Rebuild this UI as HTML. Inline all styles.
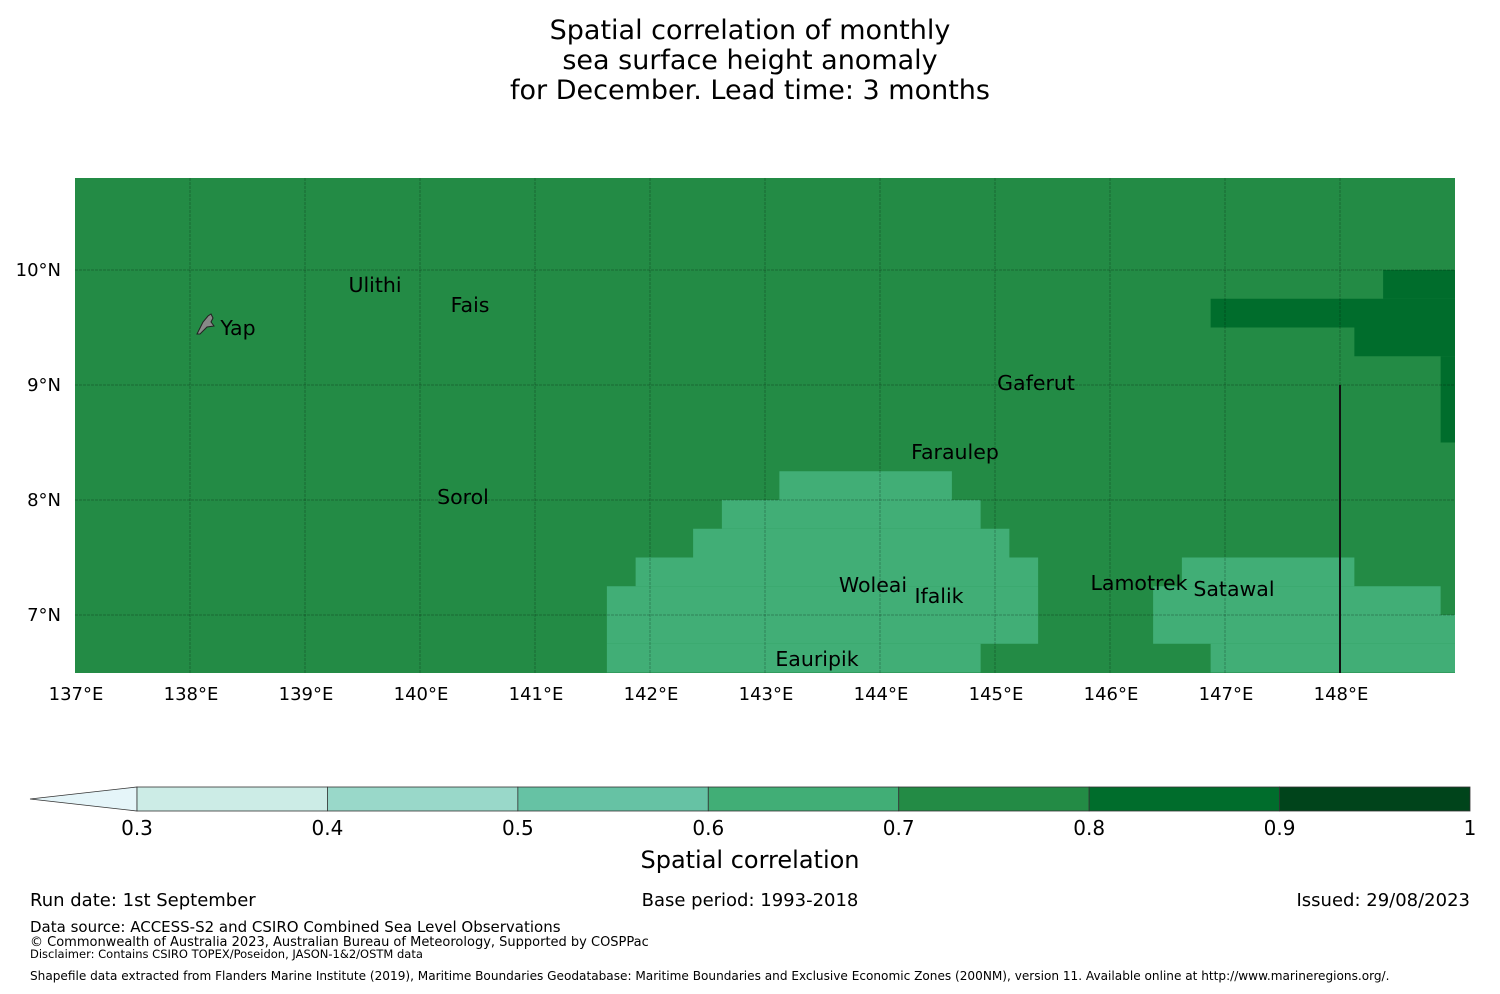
<!DOCTYPE html>
<html><head><meta charset="utf-8">
<style>
html,body{margin:0;padding:0;background:#fff;}
body{width:1500px;height:990px;overflow:hidden;font-family:"DejaVu Sans","Liberation Sans",sans-serif;}
</style></head>
<body>
<svg id="chart" width="1500" height="990" xmlns="http://www.w3.org/2000/svg" font-family="DejaVu Sans, Liberation Sans, sans-serif">
  <g font-size="27" text-anchor="middle" fill="#000">
    <text x="750" y="39">Spatial correlation of monthly</text>
    <text x="750" y="69">sea surface height anomaly</text>
    <text x="750" y="99">for December. Lead time: 3 months</text>
  </g>
  <g id="map"></g>
  <g id="cbar"></g>
  <g font-size="18" fill="#000">
    <text x="30" y="906">Run date: 1st September</text>
    <text x="750" y="906" text-anchor="middle">Base period: 1993-2018</text>
    <text x="1470" y="906" text-anchor="end">Issued: 29/08/2023</text>
    <text x="30" y="932" font-size="15">Data source: ACCESS-S2 and CSIRO Combined Sea Level Observations</text>
    <text x="30" y="946" font-size="13">© Commonwealth of Australia 2023, Australian Bureau of Meteorology, Supported by COSPPac</text>
    <text x="30" y="958" font-size="11.5">Disclaimer: Contains CSIRO TOPEX/Poseidon, JASON-1&amp;2/OSTM data</text>
    <text x="30" y="980" font-size="12.1">Shapefile data extracted from Flanders Marine Institute (2019), Maritime Boundaries Geodatabase: Maritime Boundaries and Exclusive Economic Zones (200NM), version 11. Available online at http://www.marineregions.org/.</text>
  </g>
</svg>
<script>
// ---- data ----
const lonTicks = [137,138,139,140,141,142,143,144,145,146,147,148];
const latTicks = [7,8,9,10];
const backgroundValue = 0.75;
// regions: [lonMin, lonMax, latMin, latMax, value]
const regionLon0 = [143.125,142.625,142.375,141.875,146.625,141.625,146.375,141.625,146.375,141.625,146.875, 148.375,146.875,148.125,148.875];
const regionLon1 = [144.625,144.875,145.125,145.375,148.125,145.375,148.875,145.375,149.0,144.875,149.0, 149.0,149.0,149.0,149.0];
const regionLat0 = [8.0,7.75,7.5,7.25,7.25,7.0,7.0,6.75,6.75,6.5,6.5, 9.75,9.5,9.25,8.5];
const regionLat1 = [8.25,8.0,7.75,7.5,7.5,7.25,7.25,7.0,7.0,6.75,6.75, 10.0,9.75,9.5,9.25];
const regionVal = [0.65,0.65,0.65,0.65,0.65,0.65,0.65,0.65,0.65,0.65,0.65, 0.85,0.85,0.85,0.85];
const placeNames = ["Yap","Ulithi","Fais","Gaferut","Faraulep","Sorol","Woleai","Ifalik","Eauripik","Lamotrek","Satawal"];
const placeLon = [138.417,139.609,140.435,145.357,144.652,140.374,143.939,144.513,143.452,146.252,147.078];
const placeLat = [9.496,9.87,9.696,9.017,8.417,8.026,7.261,7.165,6.617,7.278,7.226];
const cbarBounds = [0.3,0.4,0.5,0.6,0.7,0.8,0.9,1.0];
const cbarLabels = ["0.3","0.4","0.5","0.6","0.7","0.8","0.9","1"];
const cbarColors = ["#ccece6","#99d8c9","#66c2a4","#41ae76","#238b45","#006d2c","#00441b"];

// ---- axes ----
const X0=75,X1=1455,Y0=178,Y1=673;
const lonMin=137,lonMax=149,latMax=10.8,latMin=6.5;
const px=115;
const xs=lon=>X0+(lon-lonMin)*px;
const ys=lat=>Y0+(latMax-lat)*px;
const NS='http://www.w3.org/2000/svg';
function mk(tag,attrs,parent){const e=document.createElementNS(NS,tag);for(const k in attrs)e.setAttribute(k,attrs[k]);parent.appendChild(e);return e;}
function colorFor(v){for(let i=0;i<cbarColors.length;i++){if(v<cbarBounds[i+1])return cbarColors[i];}return cbarColors[cbarColors.length-1];}

const map=document.getElementById('map');
const bg=mk('rect',{x:X0,y:Y0,width:X1-X0,height:Y1-Y0,fill:colorFor(backgroundValue)},map);


for(let i=0;i<regionVal.length;i++){
  const a=Math.max(regionLon0[i],lonMin),b=Math.min(regionLon1[i],lonMax);
  const r=mk('rect',{x:xs(a),y:ys(regionLat1[i]),width:xs(b)-xs(a),height:ys(regionLat0[i])-ys(regionLat1[i]),fill:colorFor(regionVal[i])},map);
  
  
}
// gridlines
lonTicks.forEach((lon,i)=>{
  if(lon===lonMin)return;
  const l=mk('line',{x1:xs(lon),x2:xs(lon),y1:Y0,y2:Y1,stroke:'#000','stroke-opacity':0.25,'stroke-width':1,'stroke-dasharray':'3,1'},map);
  
  
});
latTicks.forEach(lat=>{
  const l=mk('line',{x1:X0,x2:X1,y1:ys(lat),y2:ys(lat),stroke:'#000','stroke-opacity':0.25,'stroke-width':1,'stroke-dasharray':'3,1'},map);
  
  
});
// EEZ boundary line
const eez=mk('line',{x1:xs(148),x2:xs(148),y1:ys(9),y2:Y1,stroke:'#111','stroke-width':2},map);


// Yap island shape
const yap=mk('path',{d:'M197,334 L203,322 L208,316 L211,314 L213,318 L211,322 L214,326 L207,327 L200,334 Z',fill:'#888',stroke:'#222','stroke-width':1},map);


// tick labels
lonTicks.forEach((lon,i)=>{
  const t=mk('text',{x:xs(lon)+1,y:700,'font-size':18,'text-anchor':'middle',fill:'#000'},map);
  t.textContent=lon+'°E';
  
  
});
latTicks.forEach(lat=>{
  const t=mk('text',{x:61,y:ys(lat)+6,'font-size':18,'text-anchor':'end',fill:'#000'},map);
  t.textContent=lat+'°N';
  
  
});
// place names
placeNames.forEach((n,i)=>{
  const t=mk('text',{x:xs(placeLon[i]),y:ys(placeLat[i])+7,'font-size':20.5,'text-anchor':'middle',fill:'#000'},map);
  t.textContent=n;
  
  
});

// colorbar
const cb=document.getElementById('cbar');
const CX0=137,CX1=1470,CY0=787,CY1=811;
const cs=v=>CX0+(v-cbarBounds[0])/(cbarBounds[cbarBounds.length-1]-cbarBounds[0])*(CX1-CX0);
const tri=mk('polygon',{points:`30,799 ${CX0},787 ${CX0},811`,fill:'#e5f5f9',stroke:'#333','stroke-width':0.8},cb);


cbarColors.forEach((c,i)=>{
  const r=mk('rect',{x:cs(cbarBounds[i]),y:CY0,width:cs(cbarBounds[i+1])-cs(cbarBounds[i]),height:CY1-CY0,fill:c,stroke:'#333','stroke-width':0.8},cb);
  
  
});
cbarBounds.forEach((v,i)=>{
  const t=mk('text',{x:cs(v),y:835,'font-size':20,'text-anchor':'middle',fill:'#000'},cb);
  t.textContent=cbarLabels[i];
  
  
});
const ct=mk('text',{x:750,y:868,'font-size':24,'text-anchor':'middle',fill:'#000'},cb);
ct.textContent='Spatial correlation';


</script>
</body></html>
